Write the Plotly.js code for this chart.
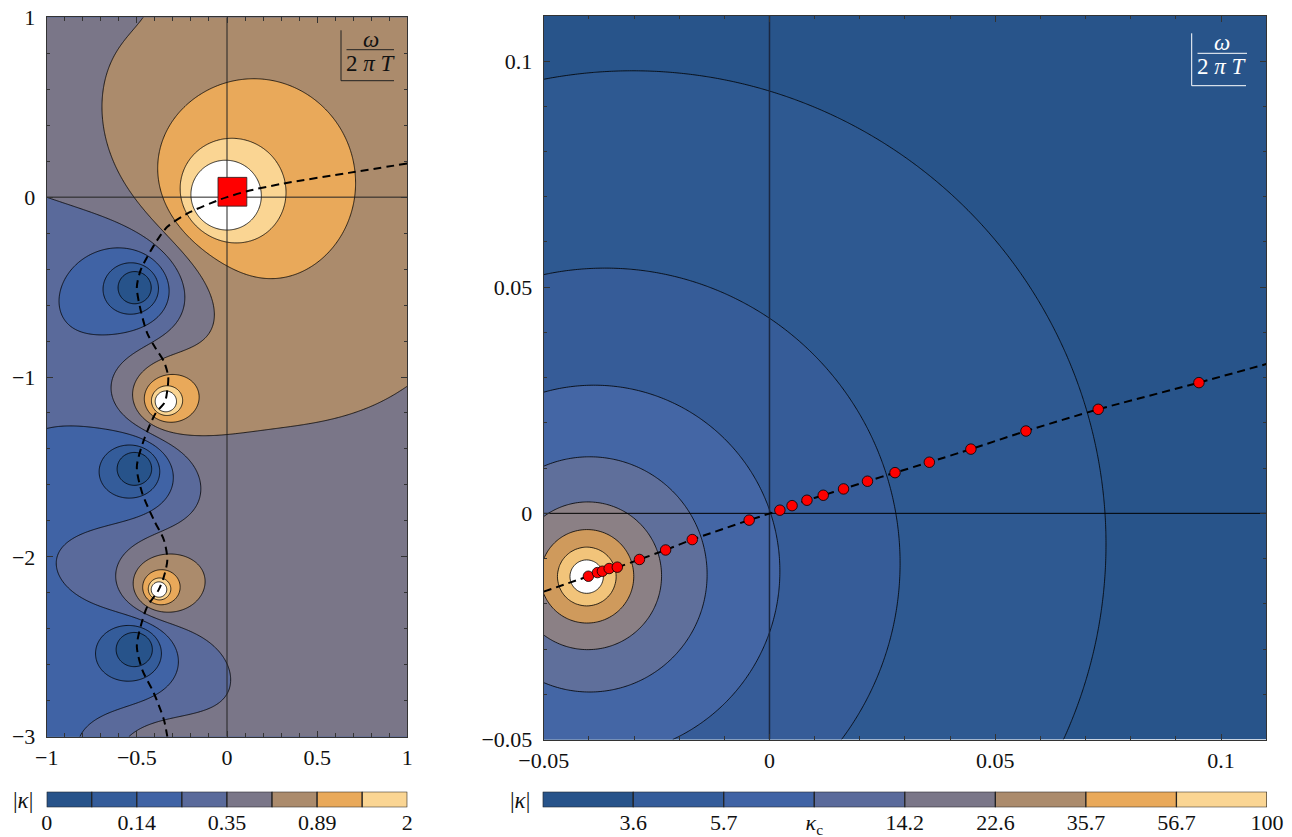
<!DOCTYPE html>
<html><head><meta charset="utf-8">
<script src="https://cdn.plot.ly/plotly-3.0.1.min.js"></script>
<style>html,body{margin:0;padding:0;background:#fff}#chart{width:1292px;height:837px}</style>
</head><body><div id="chart"></div>
<script>
// ---------- values ----------
// zeros (dark-blue minima) and poles (white maxima) of |kappa| in the omega/(2 pi T) plane;
// entries 4-7 continue the chain below the frame, the last two pairs sit just outside the frame
const zeroRe = [-0.5, -0.5, -0.5, -0.5, -0.5, -0.5, -0.5, -0.6, 1.4];
const zeroIm = [-0.5, -1.5, -2.5, -3.5, -4.5, -5.5, -6.5, 1.25, -1.1];
const poleRe = [-0.0405, -0.345, -0.38, -0.40, -0.41, -0.42, -0.42, -0.6, 1.41];
const poleIm = [-0.014, -1.14, -2.185, -3.2, -4.2, -5.2, -6.2, 1.28, -1.1];
const gain = 0.2817;

// contour levels (band boundaries) of both panels
const leftLevels  = [0.0886, 0.14, 0.222, 0.35, 0.556, 0.89, 1.41, 2];
const rightLevels = [3.6, 5.7, 9.0, 14.2, 22.6, 35.7, 56.7, 100];

// colour-bar tick labels
const leftBarTickVals  = [0, 2, 4, 6, 8];
const leftBarTickText  = ['0', '0.14', '0.35', '0.89', '2'];
const rightBarTickVals = [1, 2, 3, 4, 5, 6, 7, 8];
const rightBarTickText = ['3.6', '5.7', '<i>κ</i><sub>c</sub>', '14.2', '22.6', '35.7', '56.7', '100'];

// band colours
const bandColors  = ['#27538a', '#345c9a', '#4063a5', '#5a6a9b', '#7a7688', '#ab8b6c', '#e9a95a', '#fad593'];
const rightColors = ['#28548a', '#2e5991', '#365c98', '#4466a5', '#5f6f9b', '#8b8085', '#cf9a5c', '#f2c47a'];

// plot windows
const leftRangeX = [-1, 1], leftRangeY = [-3, 1];
const zoomRangeX = [-0.05, 0.11], zoomRangeY = [-0.05, 0.11];

// dashed path, left panel
const pathRe = [1.0, 0.675, 0.315, 0.11, 0.0, -0.0405, -0.221, -0.331, -0.387, -0.442, -0.479, -0.5,
  -0.479, -0.442, -0.396, -0.35, -0.326, -0.331, -0.345, -0.396, -0.461, -0.5, -0.47, -0.406, -0.35,
  -0.331, -0.35, -0.38, -0.442, -0.479, -0.5, -0.47, -0.406, -0.35, -0.331];
const pathIm = [0.187, 0.135, 0.076, 0.033, 0.0, -0.014, -0.091, -0.165, -0.239, -0.332, -0.406, -0.5,
  -0.628, -0.757, -0.84, -0.914, -0.998, -1.072, -1.14, -1.202, -1.35, -1.5, -1.646, -1.794, -1.906,
  -2.017, -2.109, -2.185, -2.276, -2.387, -2.5, -2.628, -2.757, -2.906, -3.0];

// red points, right panel
const ptRe = [-0.0401, -0.0381, -0.0370, -0.0355, -0.0337, -0.0288, -0.0230, -0.0171, -0.0045, 0.0023,
  0.0050, 0.0083, 0.0119, 0.0164, 0.0217, 0.0278, 0.0354, 0.0446, 0.0568, 0.0728, 0.0951];
const ptIm = [-0.0139, -0.0131, -0.0128, -0.0122, -0.0119, -0.0102, -0.0081, -0.0058, -0.0015, 0.0007,
  0.0017, 0.0029, 0.0040, 0.0054, 0.0071, 0.0090, 0.0113, 0.0142, 0.0182, 0.0230, 0.0289];
// dashed path ends, right panel
const zoomPathStart = [-0.05, -0.0173];
const zoomPathEnd = [0.11, 0.033];

// ---------- field ----------
function logKappa(x, y) {
  let s = Math.log(gain);
  for (let k = 0; k < zeroRe.length; k++) {
    const a = x - zeroRe[k], b = y - zeroIm[k];
    s += 0.5 * Math.log(a * a + b * b + 1e-30);
  }
  for (let k = 0; k < poleRe.length; k++) {
    const a = x - poleRe[k], b = y - poleIm[k];
    s -= 0.5 * Math.log(a * a + b * b + 1e-30);
  }
  return s;
}
function levelIndex(lv, L) {
  const lg = L.map(Math.log), n = lg.length;
  if (!isFinite(lv)) return lv > 0 ? 9.5 : -0.5;
  if (lv <= lg[0]) return Math.max(-0.5, 1 + (lv - lg[0]) / (lg[1] - lg[0]));
  for (let k = 0; k < n - 1; k++) if (lv <= lg[k + 1]) return k + 1 + (lv - lg[k]) / (lg[k + 1] - lg[k]);
  return Math.min(9.5, n + (lv - lg[n - 1]) / (lg[n - 1] - lg[n - 2]));
}
function grid(rx, ry, step, L) {
  const xs = [], ys = [], z = [];
  const nx = Math.round((rx[1] - rx[0]) / step), ny = Math.round((ry[1] - ry[0]) / step);
  for (let i = 0; i <= nx; i++) xs.push(rx[0] + i * step);
  for (let j = 0; j <= ny; j++) ys.push(ry[0] + j * step);
  for (let j = 0; j <= ny; j++) {
    const row = [];
    for (let i = 0; i <= nx; i++) row.push(levelIndex(logKappa(xs[i], ys[j]), L));
    z.push(row);
  }
  return {xs, ys, z};
}
const gL = grid(leftRangeX, leftRangeY, 0.005, leftLevels);
const gR = grid(zoomRangeX, zoomRangeY, 0.0005, rightLevels);

const scaleOf = cols => cols.concat(['#ffffff']).map((c, i) => [i / 8, c]);

const W = 1292, H = 837;
const PX = p => p / W, PY = p => 1 - p / H;
const serif = 'Liberation Serif, Times New Roman, serif';

const contourCommon = {
  type: 'contour', hoverinfo: 'skip', showscale: false, autocontour: false,
  contours: {start: 1, end: 8, size: 1, coloring: 'fill', showlines: true},
  line: {color: '#000', width: 0.8, smoothing: 1}
};

const traces = [
  Object.assign({}, contourCommon, {x: gL.xs, y: gL.ys, z: gL.z, colorscale: scaleOf(bandColors), xaxis: 'x', yaxis: 'y'}),
  {type: 'scatter', mode: 'lines', x: leftRangeX, y: [0, 0], line: {color: '#222', width: 1}, xaxis: 'x', yaxis: 'y', hoverinfo: 'skip'},
  {type: 'scatter', mode: 'lines', x: [0, 0], y: leftRangeY, line: {color: '#222', width: 1}, xaxis: 'x', yaxis: 'y', hoverinfo: 'skip'},
  {type: 'scatter', mode: 'lines', fill: 'toself', fillcolor: '#ff0000',
   x: [zoomRangeX[0], zoomRangeX[1], zoomRangeX[1], zoomRangeX[0], zoomRangeX[0]],
   y: [zoomRangeY[0], zoomRangeY[0], zoomRangeY[1], zoomRangeY[1], zoomRangeY[0]],
   line: {color: '#222', width: 0.8}, xaxis: 'x', yaxis: 'y', hoverinfo: 'skip'},
  {type: 'scatter', mode: 'lines', x: pathRe, y: pathIm, line: {color: '#000', width: 2, dash: '8px,5px', shape: 'spline', smoothing: 0.8}, xaxis: 'x', yaxis: 'y', hoverinfo: 'skip'},

  Object.assign({}, contourCommon, {x: gR.xs, y: gR.ys, z: gR.z, colorscale: scaleOf(rightColors), xaxis: 'x2', yaxis: 'y2'}),
  {type: 'scatter', mode: 'lines', x: zoomRangeX, y: [0, 0], line: {color: '#000', width: 1}, xaxis: 'x2', yaxis: 'y2', hoverinfo: 'skip'},
  {type: 'scatter', mode: 'lines', x: [0, 0], y: zoomRangeY, line: {color: '#1a2740', width: 1.5}, xaxis: 'x2', yaxis: 'y2', hoverinfo: 'skip'},
  {type: 'scatter', mode: 'lines', x: [zoomPathStart[0]].concat(ptRe, [zoomPathEnd[0]]), y: [zoomPathStart[1]].concat(ptIm, [zoomPathEnd[1]]),
   line: {color: '#000', width: 2, dash: '8px,5px', shape: 'spline', smoothing: 0.5}, xaxis: 'x2', yaxis: 'y2', hoverinfo: 'skip'},
  {type: 'scatter', mode: 'markers', x: ptRe, y: ptIm, marker: {color: '#ff0000', size: 10.5, line: {color: '#000', width: 0.8}}, xaxis: 'x2', yaxis: 'y2', hoverinfo: 'skip'},

  {type: 'bar', x: [0.5, 1.5, 2.5, 3.5, 4.5, 5.5, 6.5, 7.5], y: bandColors.map(() => 1), width: 1,
   marker: {color: bandColors, line: {color: '#222', width: 1.2}}, xaxis: 'x3', yaxis: 'y3', hoverinfo: 'skip'},
  {type: 'bar', x: [0.5, 1.5, 2.5, 3.5, 4.5, 5.5, 6.5, 7.5], y: bandColors.map(() => 1), width: 1,
   marker: {color: bandColors, line: {color: '#222', width: 1.2}}, xaxis: 'x4', yaxis: 'y4', hoverinfo: 'skip'}
];

const tickFont = {family: serif, size: 22, color: '#111'};
const frame = {showline: true, linecolor: '#333', linewidth: 1, mirror: 'allticks', showgrid: false, zeroline: false,
  ticks: 'inside', ticklen: 6, tickcolor: '#333', tickwidth: 1, tickfont: tickFont, fixedrange: true};

const layout = {
  width: W, height: H, margin: {l: 0, r: 0, t: 0, b: 0}, paper_bgcolor: '#fff', plot_bgcolor: '#fff',
  showlegend: false, bargap: 0,
  xaxis: Object.assign({}, frame, {domain: [PX(46.7), PX(407.3)], range: leftRangeX, anchor: 'y', ticklabelstandoff: 1,
    tickmode: 'array', tickvals: [-1, -0.5, 0, 0.5, 1], ticktext: ['−1', '−0.5', '0', '0.5', '1'],
    minor: {dtick: 0.1, ticklen: 3.5, ticks: 'inside', tickcolor: '#333', showgrid: false}}),
  yaxis: Object.assign({}, frame, {domain: [PY(736.7), PY(17.3)], range: leftRangeY, anchor: 'x', ticklabelstandoff: 6,
    tickmode: 'array', tickvals: [-3, -2, -1, 0, 1], ticktext: ['−3', '−2', '−1', '0', '1'],
    minor: {dtick: 0.2, ticklen: 3.5, ticks: 'inside', tickcolor: '#333', showgrid: false}}),
  xaxis2: Object.assign({}, frame, {domain: [PX(543.7), PX(1266.2)], range: zoomRangeX, anchor: 'y2', ticklabelstandoff: 1,
    tickmode: 'array', tickvals: [-0.05, 0, 0.05, 0.1], ticktext: ['−0.05', '0', '0.05', '0.1'],
    minor: {dtick: 0.01, ticklen: 3.5, ticks: 'inside', tickcolor: '#333', showgrid: false}}),
  yaxis2: Object.assign({}, frame, {domain: [PY(739.5), PY(15.8)], range: zoomRangeY, anchor: 'x2', ticklabelstandoff: 6,
    tickmode: 'array', tickvals: [-0.05, 0, 0.05, 0.1], ticktext: ['−0.05', '0', '0.05', '0.1'],
    minor: {dtick: 0.01, ticklen: 3.5, ticks: 'inside', tickcolor: '#333', showgrid: false}}),
  xaxis3: {domain: [PX(46.7), PX(407.3)], range: [0, 8], anchor: 'y3', showgrid: false, zeroline: false, showline: false,
    ticks: '', tickmode: 'array', tickvals: leftBarTickVals, ticktext: leftBarTickText, tickfont: tickFont, ticklabelstandoff: 0, fixedrange: true},
  yaxis3: {domain: [PY(807.3), PY(791.7)], range: [0, 1], anchor: 'x3', visible: false, fixedrange: true},
  xaxis4: {domain: [PX(542.7), PX(1267)], range: [0, 8], anchor: 'y4', showgrid: false, zeroline: false, showline: false,
    ticks: '', tickmode: 'array', tickvals: rightBarTickVals, ticktext: rightBarTickText, tickfont: tickFont, ticklabelstandoff: 0, fixedrange: true},
  yaxis4: {domain: [PY(807.3), PY(791.7)], range: [0, 1], anchor: 'x4', visible: false, fixedrange: true},
  shapes: [
    {type: 'line', xref: 'paper', yref: 'paper', x0: PX(341), x1: PX(341), y0: PY(30.3), y1: PY(80.7), line: {color: '#222', width: 1}},
    {type: 'line', xref: 'paper', yref: 'paper', x0: PX(341), x1: PX(394), y0: PY(80.7), y1: PY(80.7), line: {color: '#222', width: 1}},
    {type: 'line', xref: 'paper', yref: 'paper', x0: PX(346.5), x1: PX(394), y0: PY(49.7), y1: PY(49.7), line: {color: '#222', width: 1}},
    {type: 'line', xref: 'paper', yref: 'paper', x0: PX(1191.7), x1: PX(1191.7), y0: PY(33.3), y1: PY(85.7), line: {color: '#fff', width: 1}},
    {type: 'line', xref: 'paper', yref: 'paper', x0: PX(1191.7), x1: PX(1246), y0: PY(85.7), y1: PY(85.7), line: {color: '#fff', width: 1}},
    {type: 'line', xref: 'paper', yref: 'paper', x0: PX(1197.5), x1: PX(1247), y0: PY(53.3), y1: PY(53.3), line: {color: '#fff', width: 1}}
  ],
  annotations: [
    {xref: 'paper', yref: 'paper', x: PX(370.5), y: PY(39.5), text: '<i>ω</i>', showarrow: false, xanchor: 'center', yanchor: 'middle', font: {family: serif, size: 23, color: '#111'}},
    {xref: 'paper', yref: 'paper', x: PX(370.5), y: PY(63), text: '2 <i>π T</i>', showarrow: false, xanchor: 'center', yanchor: 'middle', font: {family: serif, size: 23, color: '#111'}},
    {xref: 'paper', yref: 'paper', x: PX(1222), y: PY(42.5), text: '<i>ω</i>', showarrow: false, xanchor: 'center', yanchor: 'middle', font: {family: serif, size: 23, color: '#fff'}},
    {xref: 'paper', yref: 'paper', x: PX(1222), y: PY(66.5), text: '2 <i>π T</i>', showarrow: false, xanchor: 'center', yanchor: 'middle', font: {family: serif, size: 23, color: '#fff'}},
    {xref: 'paper', yref: 'paper', x: PX(23.5), y: PY(800), text: '|<i>κ</i>|', showarrow: false, xanchor: 'center', yanchor: 'middle', font: {family: serif, size: 23, color: '#111'}},
    {xref: 'paper', yref: 'paper', x: PX(519.5), y: PY(800), text: '|<i>κ</i>|', showarrow: false, xanchor: 'center', yanchor: 'middle', font: {family: serif, size: 23, color: '#111'}}
  ]
};

Plotly.newPlot('chart', traces, layout, {staticPlot: true, displayModeBar: false});
</script></body></html>
